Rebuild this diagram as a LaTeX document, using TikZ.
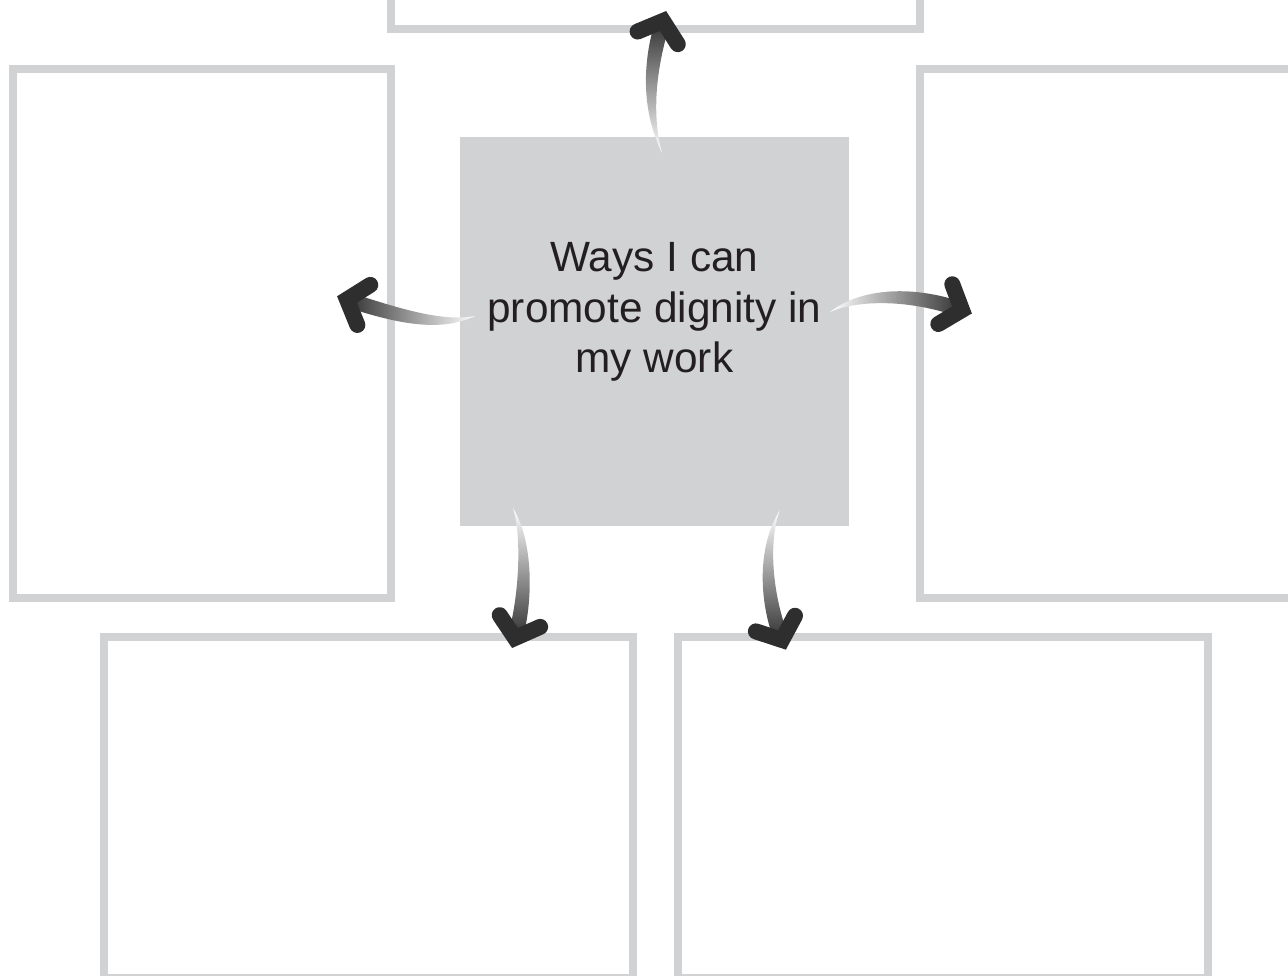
\documentclass[tikz,border=0pt]{standalone}
\usepackage{fontspec}
\setmainfont{Liberation Sans}
\usepackage{xcolor}
\definecolor{boxgray}{HTML}{D1D2D4}
\definecolor{arrdark}{HTML}{2E2E2E}
\definecolor{inkdark}{HTML}{231F20}
\usetikzlibrary{calc}
% tapered shaded shaft + chevron head: tail, c1, c2, tip, shading angle
\newcommand{\swoosh}[5]{%
 \path ($(#4)!0.15cm!90:(#3)$) coordinate (sw-l)
       ($(#4)!0.15cm!-90:(#3)$) coordinate (sw-r);
 \shade[top color=arrdark,bottom color=white,shading angle=#5]
   (#1) .. controls ($(#2)+0.8*(sw-l)-0.8*(#4)$) and ($(#3)+(sw-l)-(#4)$) .. (sw-l)
   -- (sw-r) .. controls ($(#3)+(sw-r)-(#4)$) and ($(#2)+0.8*(sw-r)-0.8*(#4)$) .. (#1) -- cycle;
 \draw[head] ($(#4)!0.55cm!50:(#3)$) -- (#4) -- ($(#4)!0.55cm!-50:(#3)$);
}

\begin{document}
\begin{tikzpicture}[x=0.02cm,y=0.02cm]
\tikzset{
 frame/.style={draw=boxgray,line width=0.16cm,minimum width=#1,inner sep=0pt},
 core/.style={fill=boxgray,minimum size=7.78cm,inner sep=0pt},
 head/.style={draw=arrdark,line width=0.32cm,line cap=round,line join=miter}
}
\useasboundingbox (0,0) rectangle (1288,976);
% answer boxes
\node[frame=10.58cm,minimum height=0.96cm] (tp) at (655.5,971) {};
\node[frame=7.56cm,minimum height=10.58cm] (lft) at (202,642.5) {};
\node[frame=7.6cm,minimum height=10.58cm] (rgt) at (1110,642.5) {};
\node[frame=10.58cm,minimum height=6.82cm] (bl) at (368.5,168.5) {};
\node[frame=10.6cm,minimum height=6.82cm] (br) at (943,168.5) {};
% centre
\node[core] (ctr) at (654.5,644.5) {};
\node[font=\fontsize{24.1}{28.7}\selectfont,text=inkdark,align=center] (ctxt) at (654.5,664)
 {Ways I can\\promote dignity in\\my work};
% arrow ends
\coordinate (up0) at (662,823);  \coordinate (up1) at (663,955);
\coordinate (lf0) at (475,660);  \coordinate (lf1) at (347,676.5);
\coordinate (rt0) at (830,664);  \coordinate (rt1) at (962,666);
\coordinate (dl0) at (513,468);  \coordinate (dl1) at (515,338);
\coordinate (dr0) at (780,466);  \coordinate (dr1) at (782,336);
\swoosh{up0}{644,870}{652,920}{up1}{0}
\swoosh{lf0}{440,648}{395,661}{lf1}{90}
\swoosh{rt0}{855,680}{905,686}{rt1}{-90}
\swoosh{dl0}{528,436}{526,376}{dl1}{180}
\swoosh{dr0}{762,431}{766,376}{dr1}{180}
\end{tikzpicture}
\end{document}
